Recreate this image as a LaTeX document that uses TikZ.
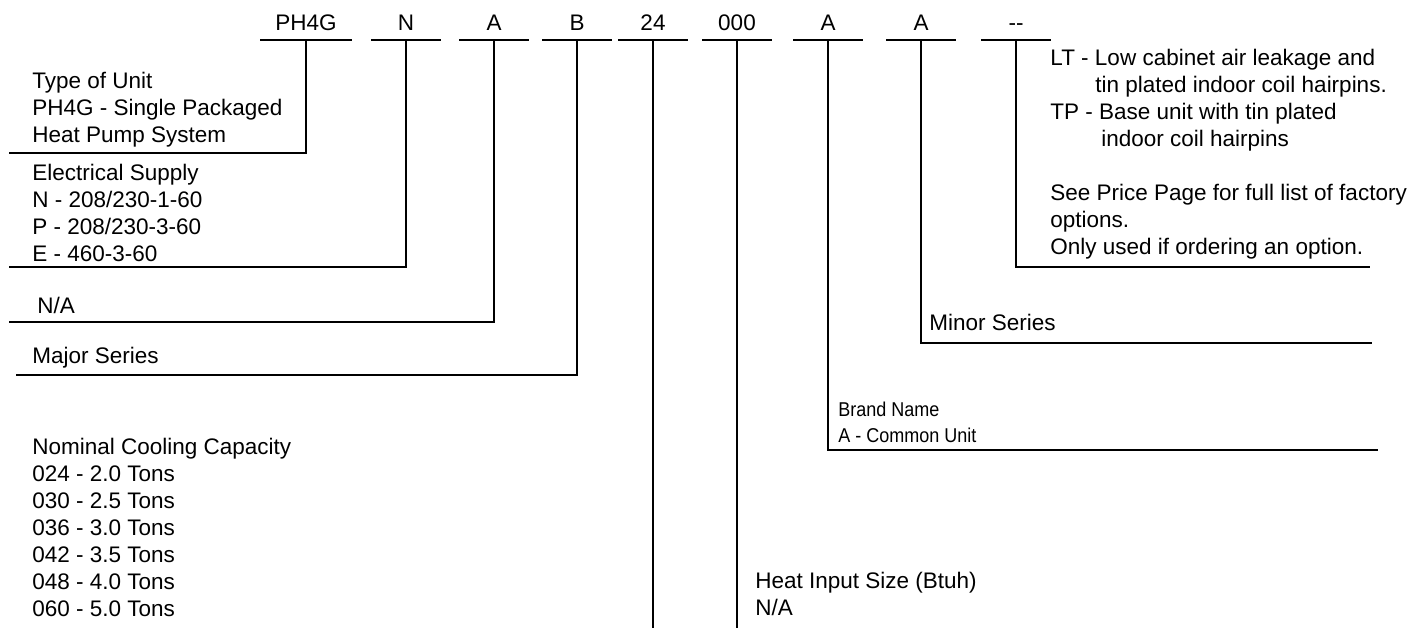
\documentclass[tikz,border=0pt]{standalone}
\usepackage{fontspec}
\setmainfont{Liberation Sans}
\newfontfamily\narrowfont{Liberation Sans}[FakeStretch=0.9]
\usetikzlibrary{positioning,calc}

\begin{document}
\begin{tikzpicture}
        [x=0.5pt,y=-0.5pt,
        every node/.style={inner sep=0pt,font=\fontsize{11.25}{13.5}\selectfont},
        code/.style={anchor=south,minimum width=34.5pt,text depth=4.5pt},
        desc/.style={anchor=north west,align=left},
        brand/.style={desc,font=\fontsize{10}{13}\narrowfont},
        rule/.style={line width=0.9pt}]
        \useasboundingbox (0,0) rectangle (1415,628);

        % fields of the model number
        \node[code,minimum width=45.5pt] (unit) at (306,40) {PH4G};
        \node[code] (volt) at (406,40) {N};
        \node[code] (na) at (494,40) {A};
        \node[code] (major) at (577,40) {B};
        \node[code] (cool) at (653,40) {24};
        \node[code] (heat) at (737,40) {000};
        \node[code] (brand) at (828,40) {A};
        \node[code] (minor) at (921,40) {A};
        \node[code] (opt) at (1016,40) {-{}-};

        % descriptions
        \node[desc] (unitd) at (32,72) {Type of Unit\\PH4G - Single Packaged\\Heat Pump System};
        \node[desc] (voltd) at (32,164) {Electrical Supply\\N - 208/230-1-60\\P - 208/230-3-60\\E - 460-3-60};
        \node[desc] (nad) at (37,297) {N/A};
        \node[desc] (majord) at (32,347) {Major Series};
        \node[desc] (coold) at (32,438) {Nominal Cooling Capacity\\024 - 2.0 Tons\\030 - 2.5 Tons\\036 - 3.0 Tons\\042 - 3.5 Tons\\048 - 4.0 Tons\\060 - 5.0 Tons};
        \node[desc] (heatd) at (755,572) {Heat Input Size (Btuh)\\N/A};
        \node[brand] (brandd) at (838,402) {Brand Name\\A - Common Unit};
        \node[desc] (minord) at (929,314) {Minor Series};
        \node[desc] (optd) at (1050,49) {LT - Low cabinet air leakage and\\\hspace*{22.5pt}tin plated indoor coil hairpins.\\TP - Base unit with tin plated\\\hspace*{25.5pt}indoor coil hairpins\\[13.5pt]See Price Page for full list of factory\\options.\\Only used if ordering an option.};

        % line ends
        \coordinate (unite) at (9,153);
        \coordinate (volte) at (9,267);
        \coordinate (nae) at (9,322);
        \coordinate (majore) at (16,375);
        \coordinate (coole) at (653,628);
        \coordinate (heate) at (737,628);
        \coordinate (brande) at (1378,450);
        \coordinate (minore) at (1372,343);
        \coordinate (opte) at (1370,267);

        \foreach \f in {unit,volt,na,major,cool,heat,brand,minor,opt}
          \draw[rule] (\f.south west) -- (\f.south east) (\f.south) |- (\f e);
\end{tikzpicture}
\end{document}
